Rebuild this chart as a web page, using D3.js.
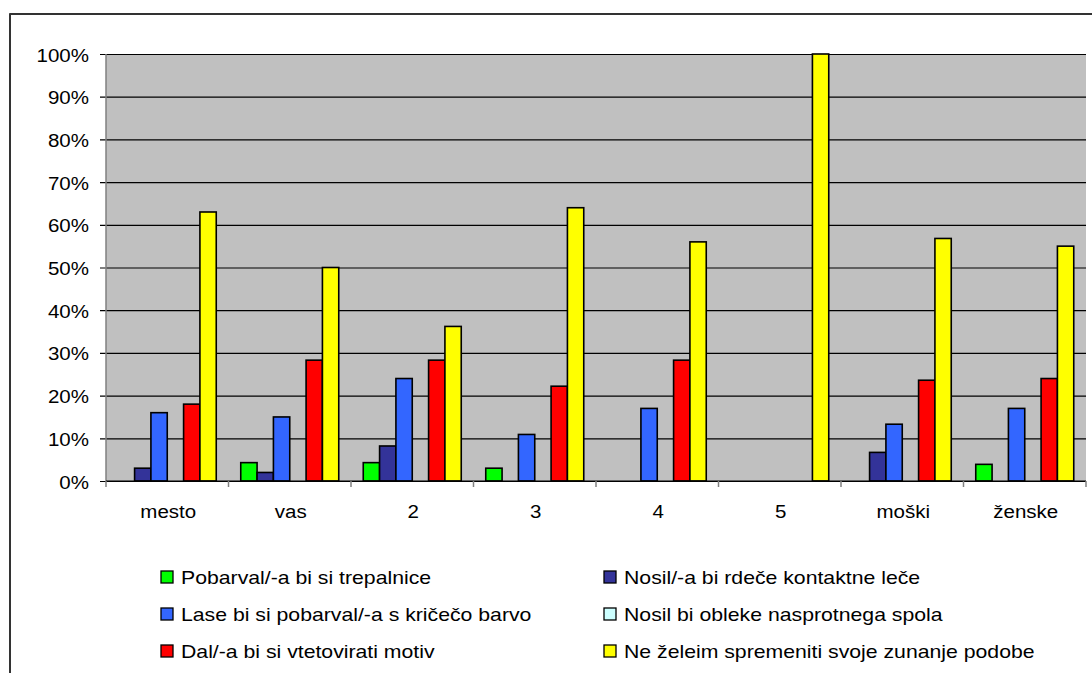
<!DOCTYPE html>
<html>
<head>
<meta charset="utf-8">
<script src="https://cdn.jsdelivr.net/npm/d3@7"></script>
<style>
  html, body { margin: 0; padding: 0; background: #fff; }
  svg { display: block; }
  text { font-family: "Liberation Sans", Arial, sans-serif; fill: #000; }
</style>
</head>
<body>
<svg id="chart" width="1092" height="673"></svg>
<script>
const categories = ["mesto", "vas", "2", "3", "4", "5", "moški", "ženske"];
const seriesNames = [
  "Pobarval/-a bi si trepalnice",
  "Nosil/-a bi rdeče kontaktne leče",
  "Lase bi si pobarval/-a s kričečo barvo",
  "Nosil bi obleke nasprotnega spola",
  "Dal/-a bi si vtetovirati motiv",
  "Ne želeim spremeniti svoje zunanje podobe"
];
const seriesColors = ["#00FF00", "#333399", "#3366FF", "#CCFFFF", "#FF0000", "#FFFF00"];
// values in percent, one array per series (order = categories)
const pobarvalTrepalnice = [0, 4.3, 4.3, 3, 0, 0, 0, 3.9];
const rdeceLece          = [3, 2, 8.2, 0, 0, 0, 6.7, 0];
const laseKricece        = [16, 15, 24, 10.9, 17, 0, 13.3, 17];
const oblekeSpola        = [0, 0, 0, 0, 0, 0, 0, 0];
const tetovaza           = [18, 28.3, 28.3, 22.2, 28.3, 0, 23.6, 24];
const neZelim            = [63, 50, 36.2, 64, 56, 100, 56.8, 55];
const seriesValues = [pobarvalTrepalnice, rdeceLece, laseKricece, oblekeSpola, tetovaza, neZelim];
const yTicks = [0, 10, 20, 30, 40, 50, 60, 70, 80, 90, 100];
const legendOrder = [0, 2, 4, 1, 3, 5];

const svg = d3.select("#chart");
const L = 106, R = 1086, T = 54, B = 481;

// outer chart border (only left/top visible)
svg.append("rect").attr("x", 10).attr("y", 14).attr("width", 1100).attr("height", 700)
  .attr("fill", "none").attr("stroke", "#000").attr("stroke-width", 1.6);
svg.append("line").attr("x1", 10).attr("x2", 10).attr("y1", 14).attr("y2", 673)
  .attr("stroke", "#333").attr("stroke-width", 2);

const x0 = d3.scaleBand().domain(categories).range([L, R]).padding(0);
const x1 = d3.scaleBand().domain(d3.range(seriesNames.length)).range([0, x0.bandwidth()])
  .paddingInner(0).paddingOuter(0.75);
const y = d3.scaleLinear().domain([0, 100]).range([B, T]);

// plot background
svg.append("rect").attr("x", L).attr("y", T).attr("width", R - L).attr("height", B - T).attr("fill", "#C0C0C0");

// gridlines + y ticks
const yAxis = d3.axisLeft(y).tickValues(yTicks).tickSize(6).tickFormat(d => d + "%");
const gy = svg.append("g").attr("transform", `translate(${L},0)`).call(yAxis);
gy.select(".domain").remove();
gy.selectAll(".tick line").attr("stroke", "#000").attr("x2", R - L).attr("x1", -6).attr("stroke-width", 1.2);
gy.selectAll(".tick text").remove();
gy.selectAll(".tick").append("text")
  .attr("text-anchor", "end")
  .attr("font-size", 19)
  .attr("transform", "translate(-17,7) scale(1.08,1)")
  .text(d => d + "%");

// left axis line
svg.append("line").attr("x1", L).attr("x2", L).attr("y1", T).attr("y2", B)
  .attr("stroke", "#808080").attr("stroke-width", 1.5);

// bars
const groups = svg.append("g").selectAll("g").data(categories).join("g")
  .attr("transform", d => `translate(${x0(d)},0)`);
groups.selectAll("rect")
  .data((c, ci) => seriesValues.map((vals, si) => ({ si, v: vals[ci] })).filter(d => d.v > 0))
  .join("rect")
  .attr("x", d => x1(d.si))
  .attr("width", x1.bandwidth())
  .attr("y", d => y(d.v))
  .attr("height", d => B - y(d.v))
  .attr("fill", d => seriesColors[d.si])
  .attr("stroke", "#000").attr("stroke-width", 1.6);

// bottom axis
svg.append("line").attr("x1", L).attr("x2", R).attr("y1", B).attr("y2", B)
  .attr("stroke", "#000").attr("stroke-width", 1.2);
const boundaries = categories.map(c => x0(c)).concat([R]);
svg.append("g").selectAll("line").data(boundaries).join("line")
  .attr("x1", d => d).attr("x2", d => d).attr("y1", B).attr("y2", B + 6)
  .attr("stroke", "#808080").attr("stroke-width", 1.5);
svg.append("g").selectAll("text").data(categories).join("text")
  .attr("text-anchor", "middle")
  .attr("font-size", 19)
  .attr("transform", d => `translate(${x0(d) + x0.bandwidth() / 2 + 1},518) scale(1.08,1)`)
  .text(d => d);

// legend
const legend = svg.append("g");
const colX = [161, 604];
const rowY = [577, 614, 651];
legendOrder.forEach((si, i) => {
  const col = Math.floor(i / 3), row = i % 3;
  const g = legend.append("g").attr("transform", `translate(${colX[col]},${rowY[row]})`);
  g.append("rect").attr("x", 0).attr("y", -6).attr("width", 12).attr("height", 12)
    .attr("fill", seriesColors[si]).attr("stroke", "#000").attr("stroke-width", 1.3);
  g.append("text").attr("font-size", 18)
    .attr("transform", "translate(20,6.5) scale(1.18,1)")
    .text(seriesNames[si]);
});
</script>
</body>
</html>
